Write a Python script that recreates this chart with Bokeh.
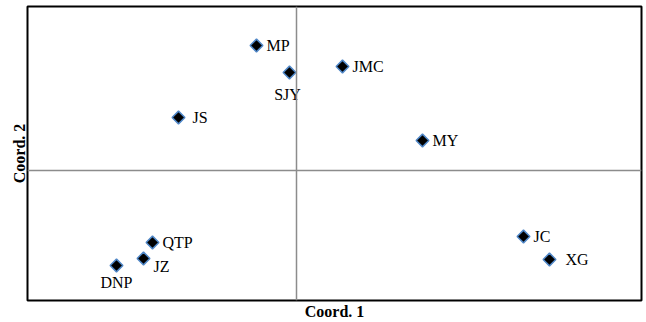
import math
from bokeh.plotting import figure
from bokeh.models import Span, ColumnDataSource, Range1d, FixedTicker
from bokeh.embed import file_html
from bokeh.resources import INLINE
from bokeh.core.properties import value

names = ["MP", "SJY", "JMC", "JS", "MY", "QTP", "JZ", "DNP", "JC", "XG"]
coord1 = [-0.40, -0.07, 0.46, -1.18, 1.26, -1.44, -1.53, -1.80, 2.27, 2.53]
coord2 = [1.25, 0.98, 1.04, 0.53, 0.30, -0.72, -0.88, -0.95, -0.66, -0.89]

# label placement (pixel offsets, anchor) per point
lab_dx = [10, -2, 10, 14, 10, 10, 10, 0, 10, 16]
lab_dy = [0, 22, 0, 0, 0, 0, 8, 17, 0, 0]
lab_align = ["left", "center", "left", "left", "left", "left", "left", "center", "left", "left"]

src = ColumnDataSource(dict(x=coord1, y=coord2, name=names, dx=lab_dx, dy=lab_dy, align=lab_align))

p = figure(width=646, height=322, output_backend="svg", toolbar_location=None,
           x_range=Range1d(-2.69, 3.45), y_range=Range1d(-1.30, 1.64),
           min_border_left=27, min_border_right=5, min_border_top=6, min_border_bottom=22)
p.background_fill_color = "white"
p.border_fill_color = "white"
p.grid.visible = False
p.outline_line_color = "black"
p.outline_line_width = 2

for ax in (p.xaxis[0], p.yaxis[0]):
    ax.ticker = FixedTicker(ticks=[])
    ax.axis_line_color = None
    ax.major_tick_line_color = None
    ax.minor_tick_line_color = None
    ax.major_tick_out = 0
    ax.major_label_standoff = 0
    ax.axis_label_standoff = 2
    ax.axis_label_text_font = "Liberation Serif"
    ax.axis_label_text_font_style = "bold"
    ax.axis_label_text_font_size = "16px"
    ax.axis_label_text_color = "black"
p.xaxis.axis_label = "Coord. 1"
p.yaxis.axis_label = "Coord. 2"
p.yaxis.axis_label_standoff = 0

p.add_layout(Span(location=0, dimension="height", line_color="#8c8c8c", line_width=1.5))
p.add_layout(Span(location=0, dimension="width", line_color="#8c8c8c", line_width=1.5))

p.scatter("x", "y", source=src, marker="square", angle=math.pi / 4, size=9,
          fill_color="black", line_color="#4f86c6", line_width=1.5)

p.text("x", "y", text="name", source=src, x_offset="dx", y_offset="dy",
       text_align="align", text_baseline="middle",
       text_font=value("Liberation Serif"), text_font_size="16px", text_color="black")

open("out.html", "w").write(file_html(p, INLINE))
